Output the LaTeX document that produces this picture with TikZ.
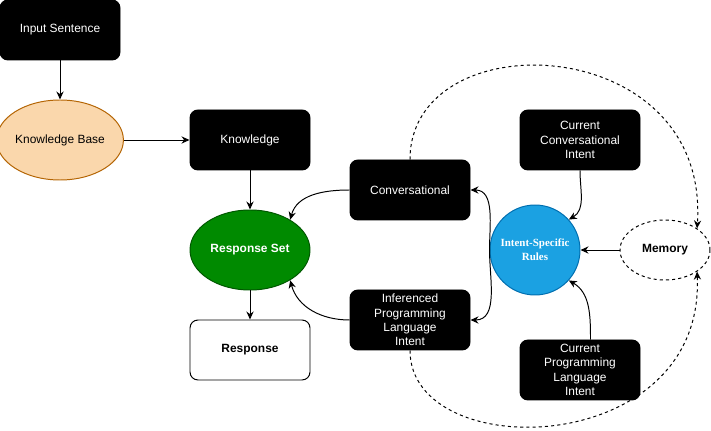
\documentclass[tikz,border=0pt]{standalone}
\usepackage{fontspec}
\setmainfont{Liberation Sans}
\newfontfamily\rulesfont{Liberation Serif}
\usepackage{tikz}
\usetikzlibrary{arrows.meta, shapes.geometric}
\definecolor{kb_fill}{HTML}{FAD7AC}
\definecolor{kb_draw}{HTML}{B46504}
\definecolor{rs_fill}{HTML}{008A00}
\definecolor{rs_draw}{HTML}{005700}
\definecolor{rules_fill}{HTML}{1BA1E2}
\definecolor{rules_draw}{HTML}{006EAF}

\begin{document}
\begin{tikzpicture}[
    % Stili per i blocchi
    black_box/.style = {
        rectangle,
        rounded corners=0.2cm,
        fill=black,
        draw=black,
        text=white,
        line width=0.7pt,
        minimum width=3cm,
        minimum height=1.5cm,
        inner sep=1pt,
        align=center,
        font=\fontsize{8.5}{10.2}\selectfont
    },
    white_box/.style = {
        black_box,
        fill=white,
        text=black,
        font=\fontsize{8.5}{10.2}\selectfont\bfseries
    },
    kb_ellipse/.style = {
        ellipse,
        fill=kb_fill,
        draw=kb_draw,
        line width=0.7pt,
        minimum width=3cm,
        minimum height=2cm,
        inner sep=0,
        font=\fontsize{8.5}{10.2}\selectfont
    },
    rs_ellipse/.style = {
        kb_ellipse,
        fill=rs_fill,
        draw=rs_draw,
        text=white,
        font=\fontsize{8.5}{10.2}\selectfont\bfseries
    },
    memory_ellipse/.style = {
        kb_ellipse,
        fill=white,
        draw=black,
        dash pattern=on 2.2pt off 2.2pt,
        minimum width=2.25cm,
        minimum height=1.5cm,
        font=\fontsize{8.5}{10.2}\selectfont\bfseries
    },
    rules_circle/.style = {
        circle,
        fill=rules_fill,
        draw=rules_draw,
        text=white,
        line width=0.7pt,
        minimum size=2.25cm,
        inner sep=0,
        align=center,
        font=\fontsize{7.8}{9.7}\selectfont\rulesfont\bfseries
    },
    % Stili per le frecce
    arrow_line/.style = {
        line width=0.7pt,
        -{Stealth[length=2mm, width=1.8mm]}
    },
    dash_line/.style = {
        arrow_line,
        dash pattern=on 2.2pt off 2.2pt
    }
]

% 0. Area del disegno
\useasboundingbox (0, 0) rectangle (17.775, -10.775);

% 1. Catena a sinistra
\node[black_box] (input_sent) at (1.5, -0.75) {Input Sentence};
\node[kb_ellipse] (kb) at (1.5, -3.5) {Knowledge Base};
\node[black_box] (knowledge) at (6.25, -3.5) {Knowledge};
\node[rs_ellipse] (resp_set) at (6.25, -6.25) {Response Set};
\node[white_box] (response) at (6.25, -8.75) {Response};

% 2. Intenti
\node[black_box] (conv) at (10.25, -4.75) {Conversational};
\node[black_box] (inf_intent) at (10.25, -8) {Inferenced\\Programming\\Language\\Intent};
\node[black_box] (cur_conv) at (14.5, -3.5) {Current\\Conversational\\Intent};
\node[black_box] (cur_prog) at (14.5, -9.25) {Current\\Programming\\Language\\Intent};

% 3. Regole e memoria
\node[rules_circle] (rules) at (13.375, -6.25) {Intent-Specific\\Rules};
\node[memory_ellipse] (memory) at (16.625, -6.25) {Memory};

% 4. Frecce
\draw[arrow_line] (input_sent) -- (kb);
\draw[arrow_line] (kb) -- (knowledge);
\draw[arrow_line] (knowledge) -- (resp_set);
\draw[arrow_line] (resp_set) -- (response);
\draw[arrow_line] (conv.west) to[out=180, in=75] (resp_set.37);
\draw[arrow_line] (inf_intent.west) to[out=180, in=-75] (resp_set.-37);
\draw[arrow_line] (rules.west) to[out=90, in=0] (conv.east);
\draw[arrow_line] (rules.west) to[out=-90, in=0] (inf_intent.east);
\draw[arrow_line] (cur_conv.south) to[out=-90, in=30] (rules.42);
\draw[arrow_line] (cur_prog.71) to[out=90, in=-30] (rules.-42);
\draw[arrow_line] (memory) -- (rules);

% Frecce tratteggiate verso la memoria
\draw[dash_line] (conv.north) .. controls (10.25, -0.5) and (17.75, -0.75) .. (memory.34);
\draw[dash_line] (inf_intent.south) .. controls (10.25, -11.625) and (17.625, -11.5) .. (memory.-34);

\end{tikzpicture}
\end{document}
